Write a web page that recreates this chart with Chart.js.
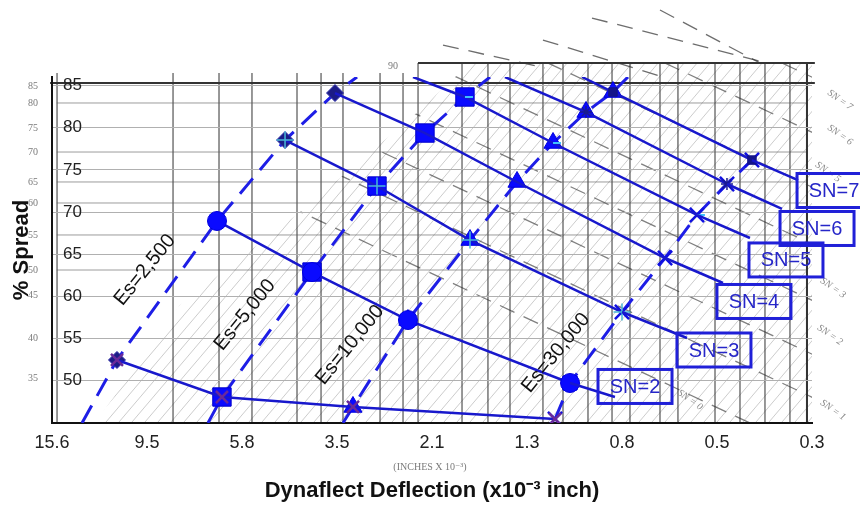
<!DOCTYPE html>
<html>
<head>
<meta charset="utf-8">
<script src="https://cdn.jsdelivr.net/npm/chart.js@4.4.1/dist/chart.umd.min.js"></script>
<style>
  html, body { margin: 0; padding: 0; background: #ffffff; }
  #wrap { width: 860px; height: 510px; }
</style>
</head>
<body>
<div id="wrap"><canvas id="c" width="860" height="510"></canvas></div>
<script>
// ---- axis ticks -------------------------------------------------------
// Deflection ticks (x10^-3 inch) sit at evenly spaced axis positions 0..8
const deflectionTicks = ['15.6', '9.5', '5.8', '3.5', '2.1', '1.3', '0.8', '0.5', '0.3'];
const spreadTicks = [50, 55, 60, 65, 70, 75, 80, 85];

// ---- constant-Es curves: axis position and % spread at SN = 1, 2, 3 ... --
const esNames = ['Es=2,500', 'Es=5,000', 'Es=10,000', 'Es=30,000'];
const es2500Defl    = [0.684, 1.737, 2.453, 2.979];
const es2500Spread  = [52.47, 68.94, 78.53, 84.10];
const es5000Defl    = [1.789, 2.737, 3.421, 3.926, 4.347];
const es5000Spread  = [48.08, 62.89, 73.08, 79.36, 83.63];
const es10000Defl   = [3.168, 3.747, 4.400, 4.895, 5.274, 5.621, 5.905];
const es10000Spread = [46.90, 57.20, 66.68, 73.56, 78.18, 81.85, 84.22];
const es30000Defl   = [5.295, 5.453, 6.000, 6.453, 6.789, 7.105, 7.368];
const es30000Spread = [45.47, 49.74, 58.15, 64.55, 69.65, 73.32, 76.16];

// where each dashed Es curve runs on past its lowest / highest SN point
const esTailLowDefl    = [0.316, 1.642, 3.063, null];
const esTailLowSpread  = [45.0, 45.0, 45.0, null];
const esTailHighDefl   = [3.211, 4.611, 6.063, null];
const esTailHighSpread = [86.0, 86.0, 86.0, null];

// ---- constant-SN lines --------------------------------------------------
const snLevels = [1, 2, 3, 4, 5, 6, 7];
// point where the higher SN lines enter through the top of the plot
const snEntryDefl   = [null, null, null, null, 3.800, 4.768, 5.579];
const snEntrySpread = [null, null, null, null, 86.0, 86.0, 86.0];

// SN call-out boxes: leader tip and box centre
const snBoxText     = ['SN=2', 'SN=3', 'SN=4', 'SN=5', 'SN=6', 'SN=7'];
const snBoxLevel    = [2, 3, 4, 5, 6, 7];
const snTipDefl     = [5.926, 6.684, 7.063, 7.347, 7.684, 7.853];
const snTipSpread   = [48.08, 55.07, 61.59, 66.92, 70.36, 73.79];
const snBoxDefl     = [6.137, 6.968, 7.389, 7.726, 8.053, 8.232];
const snBoxSpread   = [49.33, 53.65, 59.40, 64.32, 68.05, 72.55];

// Es curve captions (centre of the rotated text)
const esLabelDefl   = [0.979, 2.032, 3.137, 5.305];
const esLabelSpread = [63.13, 57.80, 54.24, 53.30];

// ---- backdrop: the printed design nomograph behind the curves -----------
const gridVerticalDefl = [0.053, 1.274, 1.758, 2.105, 2.579, 2.832, 3.063, 3.453, 3.695, 3.853,
  4.316, 4.589, 4.821, 5.168, 5.379, 5.642, 5.895, 6.084, 6.400, 6.589, 6.979, 7.242, 7.505, 7.768, 7.947];
const gridHorizontalSpread = [82.92, 77.11, 73.56, 71.07, 67.28, 63.13];
const printedScaleText   = ['85', '80', '75', '70', '65', '60', '55', '50', '45', '40', '35'];
const printedScaleSpread = [84.93, 82.92, 79.96, 77.11, 73.56, 71.07, 67.28, 63.13, 60.17, 55.07, 50.33];
const hatchRegionDefl   = [0.453, 1.347, 2.611, 3.874, 4.400, 8.000, 8.000];
const hatchRegionSpread = [45.0, 58.98, 70.0, 82.09, 87.66, 87.66, 45.0];
// printed SN guide lines (dashed, falling to the right): start / end
const guideFromDefl   = [0.505, 0.505, 0.505, 0.505, 0.505, 0.505, 0.505, 0.505];
const guideFromSpread = [125.64, 119.12, 112.60, 105.85, 99.21, 92.81, 87.72, 81.20];
const guideToDefl     = [8.505, 8.505, 8.505, 8.505, 8.505, 8.505, 8.505, 8.505];
const guideToSpread   = [83.31, 76.79, 70.28, 63.52, 56.88, 50.49, 45.39, 38.87];
// guide lines printed above the grid frame
const outerFromDefl   = [4.116, 5.168, 5.684, 6.400];
const outerFromSpread = [89.79, 90.38, 92.99, 93.94];
const outerToDefl     = [5.189, 6.432, 7.484, 7.453];
const outerToSpread   = [87.07, 86.00, 87.78, 87.66];
const printedSnText   = ['SN = 7', 'SN = 6', 'SN = 5', 'SN = 3', 'SN = 2', 'SN = 1', 'SN = 0'];
const printedSnDefl   = [8.295, 8.295, 8.168, 8.221, 8.189, 8.221, 6.716];
const printedSnSpread = [83.27, 79.13, 74.74, 61.00, 55.43, 46.54, 47.73];

// ---- styling ------------------------------------------------------------
const SANS = "'Liberation Sans', Arial, sans-serif";
const SERIF = "'Liberation Serif', 'DejaVu Serif', serif";
const SN_COLOR = '#1818cc';
const ES_COLOR = '#1e1ee6';
const BOX_COLOR = '#2020d8';

const esStyle = [
  { pointStyle: 'rectRot',  radius: 8.5, fill: '#1c1c86', border: '#3030a8', width: 1 },
  { pointStyle: 'rect',     radius: 13,  fill: '#0a0aff', border: '#0000cc', width: 1 },
  { pointStyle: 'triangle', radius: 10.5, fill: '#0a0aff', border: '#0000dd', width: 1 },
  { pointStyle: 'crossRot', radius: 10,  fill: '#1010e0', border: '#1010e0', width: 2.5 }
];
const snStyle = [
  { pointStyle: 'crossRot', radius: 8.5, fill: '#6a2a9a', border: '#6a2a9a', width: 2.5 },
  { pointStyle: 'circle',   radius: 9.5, fill: '#0a0aff', border: '#0000dd', width: 1 },
  { pointStyle: 'cross',    radius: 8.5, fill: '#48b8d8', border: '#48b8d8', width: 1.5 },
  { pointStyle: 'circle',   radius: 0,   fill: SN_COLOR,  border: SN_COLOR,  width: 1 },
  { pointStyle: 'dash',     radius: 8,   fill: '#3fc0ff', border: '#3fc0ff', width: 2 },
  { pointStyle: 'star',     radius: 6,   fill: '#1a1a90', border: '#1a1a90', width: 1.5 },
  { pointStyle: 'rect',     radius: 6,   fill: '#14148a', border: '#14148a', width: 1 }
];

// ---- build series -------------------------------------------------------
const esDefl   = [es2500Defl, es5000Defl, es10000Defl, es30000Defl];
const esSpread = [es2500Spread, es5000Spread, es10000Spread, es30000Spread];

const snSeries = snLevels.map((sn, k) => {
  const pts = [];
  if (snEntryDefl[k] !== null) pts.push({ x: snEntryDefl[k], y: snEntrySpread[k], entry: true });
  esDefl.forEach((d, e) => { if (k < d.length) pts.push({ x: d[k], y: esSpread[e][k] }); });
  return pts;
});

const snDatasets = snLevels.map((sn, k) => ({
  label: 'SN=' + sn,
  data: snSeries[k],
  showLine: true,
  borderColor: SN_COLOR,
  borderWidth: 2.5,
  pointStyle: snStyle[k].pointStyle,
  pointRadius: snSeries[k].map(p => p.entry ? 0 : snStyle[k].radius),
  pointBackgroundColor: snStyle[k].fill,
  pointBorderColor: snStyle[k].border,
  pointBorderWidth: snStyle[k].width,
  pointHoverRadius: 0
}));

const esDatasets = esNames.map((name, e) => {
  const pts = [];
  const radii = [];
  if (esTailLowDefl[e] !== null) { pts.push({ x: esTailLowDefl[e], y: esTailLowSpread[e] }); radii.push(0); }
  esDefl[e].forEach((d, i) => { pts.push({ x: d, y: esSpread[e][i] }); radii.push(esStyle[e].radius); });
  if (esTailHighDefl[e] !== null) { pts.push({ x: esTailHighDefl[e], y: esTailHighSpread[e] }); radii.push(0); }
  return {
    label: name,
    data: pts,
    showLine: true,
    borderColor: ES_COLOR,
    borderWidth: 3,
    borderDash: [20, 11],
    pointStyle: esStyle[e].pointStyle,
    pointRadius: radii,
    pointBackgroundColor: esStyle[e].fill,
    pointBorderColor: esStyle[e].border,
    pointBorderWidth: esStyle[e].width,
    pointHoverRadius: 0
  };
});

// ---- plugins ------------------------------------------------------------
const nomographBackdrop = {
  id: 'nomographBackdrop',
  beforeDraw(chart) {
    const { ctx, scales: { x, y } } = chart;
    const X = v => x.getPixelForValue(v);
    const Y = v => y.getPixelForValue(v);
    ctx.save();

    // region of fine diagonal hatching
    ctx.save();
    ctx.beginPath();
    hatchRegionDefl.forEach((d, i) => {
      if (i === 0) ctx.moveTo(X(d), Y(hatchRegionSpread[i]));
      else ctx.lineTo(X(d), Y(hatchRegionSpread[i]));
    });
    ctx.closePath();
    ctx.clip();
    ctx.strokeStyle = 'rgba(120,120,120,0.38)';
    ctx.lineWidth = 1;
    for (let k = -700; k < 900; k += 13) {
      ctx.beginPath();
      ctx.moveTo(k, Y(45) - 1);
      ctx.lineTo(k + 0.85 * (Y(45) - 1), 0);
      ctx.stroke();
    }
    // printed SN guide lines
    ctx.strokeStyle = 'rgba(60,60,60,0.65)';
    ctx.lineWidth = 1.3;
    ctx.setLineDash([16, 10]);
    guideFromDefl.forEach((d, i) => {
      ctx.beginPath();
      ctx.moveTo(X(d), Y(guideFromSpread[i]));
      ctx.lineTo(X(guideToDefl[i]), Y(guideToSpread[i]));
      ctx.stroke();
    });
    ctx.restore();

    ctx.strokeStyle = 'rgba(60,60,60,0.75)';
    ctx.lineWidth = 1.3;
    ctx.setLineDash([16, 10]);
    outerFromDefl.forEach((d, i) => {
      ctx.beginPath();
      ctx.moveTo(X(d), Y(outerFromSpread[i]));
      ctx.lineTo(X(outerToDefl[i]), Y(outerToSpread[i]));
      ctx.stroke();
    });
    ctx.setLineDash([]);

    // printed grid
    ctx.strokeStyle = 'rgba(40,40,40,0.8)';
    ctx.lineWidth = 1.2;
    gridVerticalDefl.forEach(d => {
      const top = d >= 3.85 ? 87.66 : 85.29;
      ctx.beginPath();
      ctx.moveTo(X(d), Y(top) - (d >= 3.85 ? 0 : 10));
      ctx.lineTo(X(d), Y(45));
      ctx.stroke();
    });
    ctx.strokeStyle = 'rgba(90,90,90,0.6)';
    ctx.lineWidth = 1;
    gridHorizontalSpread.forEach(s => {
      ctx.beginPath();
      ctx.moveTo(X(0.05), Y(s));
      ctx.lineTo(X(7.947), Y(s));
      ctx.stroke();
    });
    // frame
    ctx.strokeStyle = '#333';
    ctx.lineWidth = 2;
    ctx.beginPath();
    ctx.moveTo(X(-0.02), Y(85.29));
    ctx.lineTo(X(8.03), Y(85.29));
    ctx.moveTo(X(3.853), Y(87.66));
    ctx.lineTo(X(8.03), Y(87.66));
    ctx.moveTo(X(7.947), Y(87.66));
    ctx.lineTo(X(7.947), Y(45));
    ctx.stroke();

    // printed scale figures
    ctx.fillStyle = '#7a7a7a';
    ctx.font = '10px ' + SERIF;
    ctx.textAlign = 'center';
    ctx.textBaseline = 'middle';
    printedScaleText.forEach((t, i) => ctx.fillText(t, X(-0.2), Y(printedScaleSpread[i])));
    ctx.fillText('90', X(3.589), Y(87.3));
    ctx.fillText('(INCHES X 10⁻³)', X(3.979), Y(39.79));
    ctx.font = 'italic 10px ' + SERIF;
    ctx.fillStyle = '#8a8a8a';
    printedSnText.forEach((t, i) => {
      ctx.save();
      ctx.translate(X(printedSnDefl[i]), Y(printedSnSpread[i]));
      ctx.rotate(35 * Math.PI / 180);
      ctx.fillText(t, 0, 0);
      ctx.restore();
    });
    ctx.restore();
  }
};

const curveLabels = {
  id: 'curveLabels',
  afterDatasetsDraw(chart) {
    const { ctx, scales: { x, y } } = chart;
    const X = v => x.getPixelForValue(v);
    const Y = v => y.getPixelForValue(v);
    ctx.save();
    // SN call-outs
    snBoxText.forEach((t, i) => {
      const pts = snSeries[snBoxLevel[i] - 1];
      const last = pts[pts.length - 1];
      ctx.strokeStyle = SN_COLOR;
      ctx.lineWidth = 2.5;
      ctx.beginPath();
      ctx.moveTo(X(last.x), Y(last.y));
      ctx.lineTo(X(snTipDefl[i]), Y(snTipSpread[i]));
      ctx.stroke();
      const cx = X(snBoxDefl[i]);
      const cy = Y(snBoxSpread[i]);
      ctx.strokeStyle = BOX_COLOR;
      ctx.lineWidth = 3;
      ctx.strokeRect(cx - 37, cy - 17, 74, 34);
      ctx.fillStyle = '#2626c8';
      ctx.font = '20px ' + SANS;
      ctx.textAlign = 'center';
      ctx.textBaseline = 'middle';
      ctx.fillText(t, cx, cy + 1);
    });
    // Es captions
    ctx.fillStyle = '#111';
    ctx.font = '20px ' + SANS;
    esNames.forEach((t, i) => {
      ctx.save();
      ctx.translate(X(esLabelDefl[i]), Y(esLabelSpread[i]));
      ctx.rotate(-51 * Math.PI / 180);
      ctx.textAlign = 'center';
      ctx.textBaseline = 'middle';
      ctx.fillText(t, 0, 0);
      ctx.restore();
    });
    ctx.restore();
  }
};

new Chart(document.getElementById('c'), {
  type: 'scatter',
  data: { datasets: [...snDatasets, ...esDatasets] },
  options: {
    responsive: false,
    animation: false,
    layout: { padding: { top: 77, right: 48, bottom: 0, left: 0 } },
    plugins: { legend: { display: false }, tooltip: { enabled: false } },
    scales: {
      x: {
        type: 'linear',
        min: 0,
        max: 8,
        afterFit(scale) { scale.height = 87; },
        grid: { display: false, drawTicks: false },
        border: { display: true, color: '#111', width: 2 },
        ticks: {
          stepSize: 1,
          autoSkip: false,
          maxRotation: 0,
          padding: 9,
          color: '#222',
          font: { family: SANS, size: 18 },
          callback: v => deflectionTicks[v] ?? ''
        },
        title: {
          display: true,
          text: 'Dynaflect Deflection (x10⁻³ inch)',
          color: '#111',
          font: { family: SANS, size: 22, weight: 'bold' },
          padding: { top: 0, bottom: 6 }
        }
      },
      y: {
        type: 'linear',
        min: 45,
        max: 86,
        afterFit(scale) { scale.width = 52; },
        grid: { color: '#b0b0b0', lineWidth: 1, drawTicks: false },
        border: { display: true, color: '#111', width: 2 },
        ticks: {
          stepSize: 5,
          includeBounds: false,
          mirror: true,
          padding: 11,
          color: '#222',
          font: { family: SANS, size: 17 },
          callback: v => spreadTicks.includes(v) ? String(v) : ''
        },
        title: {
          display: true,
          text: '% Spread',
          color: '#111',
          font: { family: SANS, size: 22, weight: 'bold' },
          padding: { top: 9, bottom: 0 }
        }
      }
    }
  },
  plugins: [nomographBackdrop, curveLabels]
});
</script>
</body>
</html>
